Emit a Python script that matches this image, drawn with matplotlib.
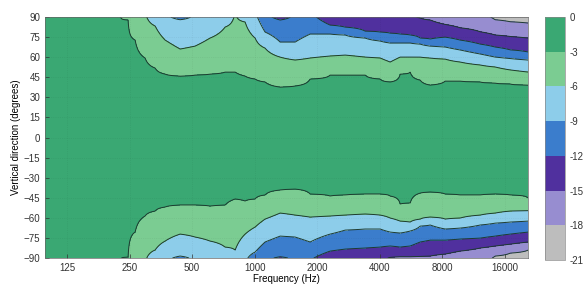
import numpy as np
import matplotlib
matplotlib.use("Agg")
import matplotlib.pyplot as plt
from matplotlib.ticker import FixedLocator, NullLocator

plt.rcParams['font.family'] = ['Liberation Sans', 'DejaVu Sans']

# frequency columns (Hz) read across the map
freqs = [98, 180, 225, 246, 266, 297, 332, 371, 438, 517, 610, 721, 806, 900,
         1006, 1123, 1327, 1567, 1851, 2310, 2729, 3406, 4022, 4494, 5021,
         5610, 6269, 7003, 8271, 9766, 12194, 14400, 17010, 20760]

# angle (deg) where each level is crossed, upper half (None = not reached)
top_m3 = [None, None, None, 87.8, 72.8, 59.4, 51.9, 47.4, 45.9, 46.7, 47.4,
          48.9, 48.9, 45.9, 43.7, 41.5, 37.7, 38.5, 43.7, 46.7, 46.7, 46.7,
          43.7, 41.5, 47.4, 48.9, 42.9, 39.2, 42.2, 42.2, 41.5, 40.7, 40.0, 39.2]
top_m6 = [None, None, None, None, None, None, 83.3, 72.8, 66.1, 68.3, 74.3,
          82.5, None, 86.3, 74.3, 66.8, 60.1, 57.9, 59.4, 60.9, 61.6, 60.1,
          59.4, 56.4, 60.1, 60.1, 60.1, 59.4, 58.6, 56.4, 54.2, 52.7, 50.5, 48.9]
top_m9 = [None, None, None, None, None, None, None, None, 88.0, None, None,
          None, None, None, None, 78.8, 71.3, 71.3, 77.3, 77.3, 76.6, 74.3,
          72.1, 70.6, 70.6, 70.6, 69.8, 68.3, 67.6, 65.4, 62.4, 60.1, 59.0, 57.9]
top_m12 = [None, None, None, None, None, None, None, None, None, None, None,
           None, None, None, None, None, 87.8, None, None, 84.0, 82.5, 79.5,
           78.8, 78.0, 77.3, 76.6, 74.3, 73.6, 75.0, 72.8, 69.8, 67.6, 65.5, 63.9]
top_m15 = [None] * 26 + [89.3, 87.8, 84.5, 82.0, 79.0, 76.6, 75.5, 74.3]
top_m18 = [None] * 31 + [88.0, 86.5, 85.5]

# angle (deg) where each level is crossed, lower half
bot_m3 = [None, None, None, -89.3, -70.6, -58.6, -54.9, -51.9, -50.4, -50.4,
          -51.2, -50.4, -45.9, -47.4, -45.9, -42.9, -39.2, -38.5, -42.2, -43.7,
          -42.9, -42.2, -42.2, -43.7, -49.7, -48.9, -41.5, -40.7, -42.2, -42.9,
          -42.9, -42.2, -42.9, -45.2]
bot_m6 = [None, None, None, None, None, None, -84.0, -77.3, -72.1, -74.3,
          -77.3, -81.8, -84.0, -72.1, -66.8, -60.9, -56.4, -57.9, -59.4, -58.6,
          -57.9, -57.1, -57.9, -60.1, -62.4, -63.1, -60.9, -59.4, -60.9, -60.1,
          -57.9, -56.4, -54.9, -54.6]
bot_m9 = [None, None, None, None, None, None, None, None, -88.5, None, None,
          None, None, None, -85.5, -78.0, -73.6, -74.3, -78.0, -72.1, -69.1,
          -68.3, -68.3, -70.6, -71.3, -69.8, -66.1, -65.3, -68.3, -67.6, -65.3,
          -63.9, -63.1, -62.4]
bot_m12 = [None] * 16 + [-89.0, None, -91.5, -84.8, -83.3, -82.5, -81.8,
                          -81.0, -81.8, -81.0, -78.0, -76.6, -76.6, -75.8,
                          -75.1, -73.6, -72.1, -70.6]
bot_m15 = [None] * 23 + [-89.5, -89.0, -89.0, -88.8, -88.5, -87.0, -84.8,
                          -82.5, -81.0, -79.6, -78.0]
bot_m18 = [None] * 31 + [-88.5, -86.3, -84.0]

levels = [-21, -18, -15, -12, -9, -6, -3, 0]
band_colors = ['#bdbdbd', '#978dd0', '#50309e', '#3b7dcc',
               '#8dcdea', '#7bcc92', '#3aa873']
cbar_ticks = [0, -3, -6, -9, -12, -15, -18, -21]
x_ticks = [125, 250, 500, 1000, 2000, 4000, 8000, 16000]
y_ticks = list(range(-90, 91, 15))

# build the level field column by column from the crossing angles
angles = np.linspace(-90, 90, 721)
tops = [top_m3, top_m6, top_m9, top_m12, top_m15, top_m18]
bots = [bot_m3, bot_m6, bot_m9, bot_m12, bot_m15, bot_m18]
lv = [-3, -6, -9, -12, -15, -18]
Z = np.zeros((len(angles), len(freqs)))
for j in range(len(freqs)):
    up, prev = [], 0.0
    for k in range(6):
        a = tops[k][j]
        if a is None:
            a = max(prev, 90) + 4
        up.append(a)
        prev = a
    dn, prev = [], 0.0
    for k in range(6):
        a = bots[k][j]
        if a is None:
            a = min(prev, -90) - 4
        dn.append(a)
        prev = a
    xp = [-150] + dn[::-1] + [0] + up + [150]
    fp = [-30] + lv[::-1] + [-1] + lv + [-30]
    Z[:, j] = np.interp(angles, xp, fp)
Z = np.clip(Z, -20.9, -0.1)

fig = plt.figure(figsize=(5.85, 2.89), dpi=100)
ax = fig.add_axes([0.077, 0.107, 0.826, 0.834])
F, A = np.meshgrid(freqs, angles)
cf = ax.contourf(F, A, Z, levels=levels, colors=band_colors)
ax.contour(F, A, Z, levels=levels[1:-1], colors='#1d3a2f',
           linewidths=0.7, linestyles='solid')

ax.set_xscale('log')
ax.set_xlim(98, 20760)
ax.set_ylim(-90, 90)
ax.xaxis.set_major_locator(FixedLocator(x_ticks))
ax.xaxis.set_minor_locator(NullLocator())
ax.set_xticklabels([str(t) for t in x_ticks])
ax.set_yticks(y_ticks)
ax.tick_params(direction='in', length=3, width=0.5, labelsize=7, colors='#333333')
ax.grid(True, color='k', alpha=0.08, lw=0.5, ls=':')
ax.set_xlabel('Frequency (Hz)', fontsize=7, labelpad=1)
ax.set_ylabel('Vertical direction (degrees)', fontsize=7, labelpad=2)
for s in ax.spines.values():
    s.set_linewidth(0.5)
    s.set_color('#666666')

cax = fig.add_axes([0.932, 0.100, 0.034, 0.841])
cb = fig.colorbar(cf, cax=cax, ticks=cbar_ticks)
cb.ax.set_yticklabels([str(t) for t in cbar_ticks])
cb.ax.tick_params(labelsize=7, length=0, colors='#333333')
cb.outline.set_linewidth(0.5)
cb.outline.set_edgecolor('#888888')

fig.savefig('out.png', dpi=100)
